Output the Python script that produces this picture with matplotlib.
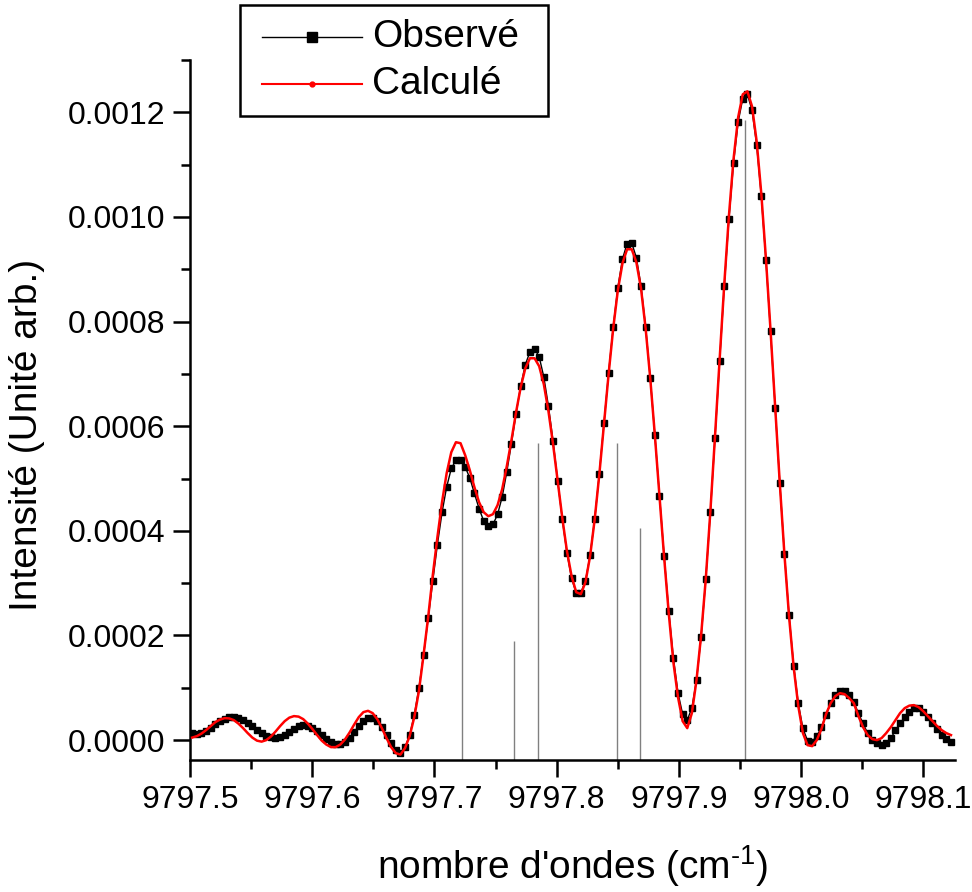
import numpy as np
import matplotlib
matplotlib.use("Agg")
import matplotlib.pyplot as plt
from matplotlib.lines import Line2D
from matplotlib.patches import Rectangle
from matplotlib.ticker import MultipleLocator, FormatStrFormatter

plt.rcParams['font.family'] = ['Liberation Sans', 'DejaVu Sans']
plt.rcParams['mathtext.default'] = 'regular'

# wavenumber grid of the recorded spectrum (cm-1)
x_start, x_end, n_pts = 9797.5018, 9798.1227, 165

# observed intensity (units of 1e-4)
observed = [
    0.128, 0.115, 0.134, 0.172, 0.229, 0.306, 0.363, 0.411, 0.439, 0.445,
    0.430, 0.392, 0.334, 0.268, 0.201, 0.134, 0.086, 0.057, 0.048, 0.067,
    0.105, 0.162, 0.220, 0.268, 0.287, 0.277, 0.239, 0.182, 0.105, 0.029,
    -0.029, -0.067, -0.067, -0.029, 0.048, 0.153, 0.268, 0.363, 0.420, 0.420,
    0.363, 0.248, 0.096, -0.057, -0.182, -0.239, -0.134, 0.096, 0.478, 0.994,
    1.624, 2.325, 3.044, 3.739, 4.351, 4.840, 5.192, 5.350, 5.350, 5.222,
    5.012, 4.714, 4.427, 4.190, 4.089, 4.122, 4.313, 4.649, 5.127, 5.669,
    6.243, 6.764, 7.179, 7.420, 7.485, 7.324, 6.942, 6.382, 5.713, 4.955,
    4.217, 3.579, 3.090, 2.815, 2.815, 3.044, 3.529, 4.229, 5.096, 6.052,
    7.018, 7.897, 8.650, 9.197, 9.491, 9.503, 9.224, 8.688, 7.897, 6.923,
    5.828, 4.668, 3.522, 2.471, 1.573, 0.904, 0.497, 0.382, 0.617, 1.146,
    1.974, 3.071, 4.362, 5.784, 7.248, 8.675, 9.955, 11.031, 11.815, 12.262,
    12.344, 12.038, 11.383, 10.408, 9.181, 7.815, 6.350, 4.917, 3.567, 2.389,
    1.424, 0.701, 0.224, -0.010, -0.029, 0.076, 0.248, 0.487, 0.701, 0.860,
    0.942, 0.942, 0.860, 0.732, 0.510, 0.319, 0.128, 0.000, -0.063, -0.096,
    -0.063, 0.032, 0.191, 0.319, 0.434, 0.541, 0.606, 0.606, 0.541, 0.445,
    0.319, 0.204, 0.096, 0.013, -0.032,
]

# calculated intensity (units of 1e-4)
calculated = [
    0.048, 0.076, 0.124, 0.191, 0.268, 0.344, 0.392, 0.420, 0.415, 0.382,
    0.315, 0.229, 0.134, 0.048, -0.010, -0.029, 0.000, 0.067, 0.162, 0.268,
    0.363, 0.430, 0.459, 0.449, 0.401, 0.315, 0.210, 0.096, -0.010, -0.086,
    -0.134, -0.134, -0.086, 0.010, 0.143, 0.296, 0.439, 0.535, 0.560, 0.516,
    0.401, 0.229, 0.038, -0.134, -0.248, -0.277, -0.153, 0.076, 0.439, 0.936,
    1.624, 2.350, 3.153, 3.879, 4.548, 5.102, 5.503, 5.694, 5.675, 5.446,
    5.159, 4.834, 4.548, 4.357, 4.280, 4.318, 4.490, 4.796, 5.236, 5.732,
    6.267, 6.745, 7.108, 7.299, 7.299, 7.146, 6.802, 6.287, 5.656, 4.949,
    4.242, 3.611, 3.134, 2.828, 2.790, 3.019, 3.516, 4.223, 5.083, 6.038,
    6.994, 7.872, 8.599, 9.115, 9.382, 9.382, 9.134, 8.637, 7.872, 6.917,
    5.828, 4.662, 3.497, 2.427, 1.490, 0.822, 0.363, 0.229, 0.516, 1.146,
    2.006, 3.076, 4.376, 5.809, 7.280, 8.713, 10.013, 11.102, 11.904, 12.344,
    12.401, 12.114, 11.446, 10.452, 9.210, 7.834, 6.363, 4.911, 3.554, 2.369,
    1.395, 0.650, 0.134, -0.096, -0.115, 0.000, 0.210, 0.497, 0.707, 0.841,
    0.898, 0.879, 0.803, 0.707, 0.459, 0.248, 0.096, 0.019, 0.000, 0.038,
    0.134, 0.248, 0.382, 0.516, 0.611, 0.659, 0.669, 0.631, 0.554, 0.459,
    0.363, 0.268, 0.191, 0.134, 0.096,
]

# line positions (cm-1) and intensities (units of 1e-4)
stick_pos = [9797.7222, 9797.7652, 9797.7850, 9797.8496, 9797.8686, 9797.9539]
stick_int = [5.35, 1.90, 5.67, 5.67, 4.05, 11.85]

x_ticks = [9797.5, 9797.6, 9797.7, 9797.8, 9797.9, 9798.0, 9798.1]
y_ticks = [0.0, 0.0002, 0.0004, 0.0006, 0.0008, 0.0010, 0.0012]
legend_labels = ['Observé', 'Calculé']

scale = 1e-4
x = np.linspace(x_start, x_end, n_pts)
obs = np.array(observed) * scale
calc = np.array(calculated) * scale
sy = np.array(stick_int) * scale

ymin, ymax = -0.000038, 0.0013

W, H = 972, 892
fig = plt.figure(figsize=(W / 100, H / 100), dpi=100)
ax = fig.add_axes([190/W, 132/H, 765/W, 700/H])

ax.vlines(stick_pos, ymin, sy, color='#808080', lw=1.0, zorder=1)
ax.plot(x, obs, color='black', lw=1.0, marker='s', ms=4.2, mfc='black',
        mec='black', zorder=2)
ax.plot(x, calc, color='red', lw=1.8, zorder=3)

ax.set_xlim(9797.5, 9798.126)
ax.set_ylim(ymin, ymax)

ax.spines['top'].set_visible(False)
ax.spines['right'].set_visible(False)
for s in ('left', 'bottom'):
    ax.spines[s].set_linewidth(1.8)

ax.set_xticks(x_ticks)
ax.set_yticks(y_ticks)
ax.xaxis.set_minor_locator(MultipleLocator(0.05))
ax.yaxis.set_minor_locator(MultipleLocator(0.0001))
ax.xaxis.set_major_formatter(FormatStrFormatter('%.1f'))
ax.yaxis.set_major_formatter(FormatStrFormatter('%.4f'))
ax.tick_params(which='major', direction='out', length=12, width=1.8,
               labelsize=23, pad=6)
ax.tick_params(which='minor', direction='out', length=6.5, width=1.8)

ax.set_xlabel("nombre d'ondes (cm$^{\u2010 1}$)", fontsize=28, labelpad=20)
ax.set_ylabel('Intensité (Unité arb.)', fontsize=28)
ax.yaxis.set_label_coords(-0.19, 0.465)

# legend drawn in figure pixel coordinates (top-left origin)
def fx(px):
    return px / W

def fy(py):
    return 1 - py / H

fig.add_artist(Rectangle((fx(239.5), fy(116)), fx(548) - fx(239.5),
                         fy(5) - fy(116), transform=fig.transFigure,
                         facecolor='white', edgecolor='black', lw=1.8,
                         zorder=5))
row_y = [36.7, 84.0]
styles = [dict(color='black', lw=1.0, marker='s', ms=6.5),
          dict(color='red', lw=1.5, marker='o', ms=3.5)]
for lab, ry, st in zip(legend_labels, row_y, styles):
    fig.add_artist(Line2D([fx(261.7), fx(311.7), fx(361.7)],
                          [fy(ry)] * 3, transform=fig.transFigure,
                          markevery=[1], zorder=6, **st))
    fig.text(fx(372), fy(ry), lab, fontsize=28, va='center', ha='left',
             zorder=6)

fig.savefig('out.png', dpi=100)
